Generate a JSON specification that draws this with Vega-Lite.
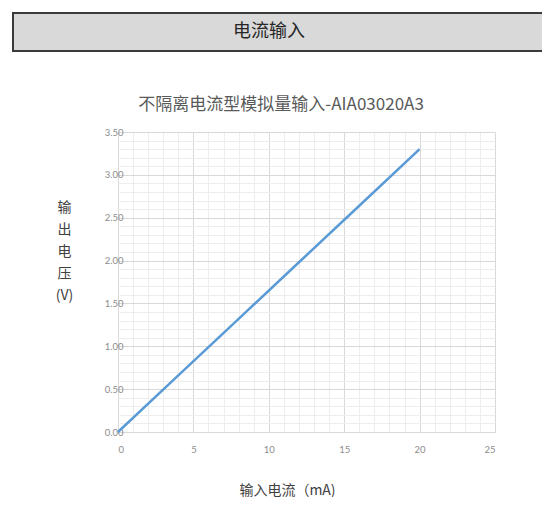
{
  "$schema": "https://vega.github.io/schema/vega-lite/v6.json",
  "padding": {"left": 12, "top": 12, "right": 0, "bottom": 0},
  "background": "white",
  "spacing": 44,
  "center": true,
  "config": {"font": "Noto Sans CJK SC"},
  "vconcat": [
    {
      "width": 586,
      "height": 38,
      "view": {"fill": "#d9d9d9", "stroke": "#3a3a3a", "strokeWidth": 2},
      "data": {"values": [{"header": "电流输入"}]},
      "mark": {"type": "text", "fontSize": 18, "dx": -37, "color": "#262626", "font": "Noto Sans CJK SC"},
      "encoding": {"text": {"field": "header", "type": "nominal"}}
    },
    {
      "width": 377,
      "height": 300,
      "title": {
        "text": "不隔离电流型模拟量输入-AIA03020A3",
        "fontSize": 17,
        "fontWeight": "normal",
        "color": "#595959",
        "frame": "bounds",
        "anchor": "middle",
        "offset": 13,
        "dx": 6,
        "font": "Noto Sans CJK SC"
      },
      "view": {"stroke": null},
      "data": {
        "values": [
          {"current_mA": 0, "voltage_V": 0.0},
          {"current_mA": 4, "voltage_V": 0.66},
          {"current_mA": 8, "voltage_V": 1.32},
          {"current_mA": 12, "voltage_V": 1.98},
          {"current_mA": 16, "voltage_V": 2.64},
          {"current_mA": 20, "voltage_V": 3.3}
        ]
      },
      "mark": {"type": "line", "color": "#5b9bd5", "strokeWidth": 2.5},
      "encoding": {
        "x": {
          "field": "current_mA",
          "type": "quantitative",
          "scale": {"domain": [0, 25], "nice": false, "zero": true},
          "axis": {
            "title": "输入电流（mA)",
            "values": [0,1,2,3,4,5,6,7,8,9,10,11,12,13,14,15,16,17,18,19,20,21,22,23,24,25],
            "labelExpr": "datum.value % 5 === 0 ? datum.label : ''",
            "labelOverlap": false,
            "grid": true,
            "gridColor": {"condition": {"test": "datum.value % 5 === 0", "value": "#d9d9d9"}, "value": "#ededed"},
            "gridWidth": 1,
            "ticks": false,
            "domain": false,
            "labelFont": "Lato",
            "labelFontSize": 9.5,
            "labelColor": "#8c8c8c",
            "labelPadding": 12,
            "titleFont": "Noto Sans CJK SC",
            "titleFontSize": 14,
            "titleFontWeight": "normal",
            "titleColor": "#404040",
            "titleX": 169,
            "titleY": 62,
            "titleAlign": "center",
            "titleBaseline": "alphabetic"
          }
        },
        "y": {
          "field": "voltage_V",
          "type": "quantitative",
          "scale": {"domain": [0, 3.5], "nice": false},
          "axis": {
            "title": ["输", "出", "电", "压", "(V)"],
            "values": [0,0.1,0.2,0.3,0.4,0.5,0.6,0.7,0.8,0.9,1,1.1,1.2,1.3,1.4,1.5,1.6,1.7,1.8,1.9,2,2.1,2.2,2.3,2.4,2.5,2.6,2.7,2.8,2.9,3,3.1,3.2,3.3,3.4,3.5],
            "labelExpr": "round(datum.value * 10) % 5 === 0 ? format(datum.value, '.2f') : ''",
            "labelOverlap": false,
            "grid": true,
            "gridColor": {"condition": {"test": "round(datum.value * 10) % 5 === 0", "value": "#d9d9d9"}, "value": "#ededed"},
            "gridWidth": 1,
            "ticks": false,
            "domain": false,
            "labelFont": "Lato",
            "labelFontSize": 9.5,
            "labelColor": "#8c8c8c",
            "labelPadding": -5,
            "titleFont": "Noto Sans CJK SC",
            "titleFontSize": 14,
            "titleFontWeight": "normal",
            "titleColor": "#404040",
            "titleAngle": 0,
            "titleX": -54,
            "titleY": 68,
            "titleAlign": "center",
            "titleBaseline": "top",
            "titleLineHeight": 22
          }
        }
      }
    }
  ]
}
